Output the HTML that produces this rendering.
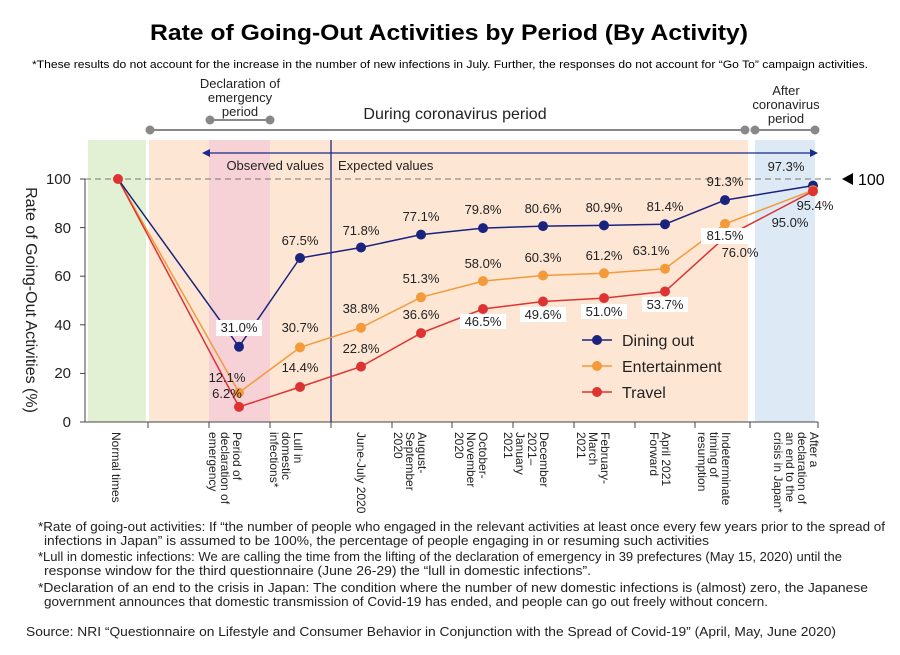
<!DOCTYPE html>
<html><head><meta charset="utf-8"><style>
body{margin:0;background:#fff;width:900px;height:650px;overflow:hidden}
svg{font-family:"Liberation Sans","DejaVu Sans",sans-serif}
</style></head><body>
<svg width="900" height="650" viewBox="0 0 900 650" xmlns="http://www.w3.org/2000/svg">
<text x="150" y="40" font-size="22" font-weight="bold" fill="#000" textLength="598" lengthAdjust="spacingAndGlyphs">Rate of Going-Out Activities by Period (By Activity)</text>
<text x="32" y="68" font-size="11" fill="#000" textLength="836" lengthAdjust="spacingAndGlyphs">*These results do not account for the increase in the number of new infections in July. Further, the responses do not account for “Go To” campaign activities.</text>
<rect x="88" y="140" width="58" height="282" fill="#e2f0d3"/>
<rect x="149" y="140" width="599" height="282" fill="#fde6d4"/>
<rect x="209" y="140" width="61" height="282" fill="#f6d2d6"/>
<rect x="755" y="140" width="60" height="282" fill="#dde9f5"/>
<g fill="#888" stroke="#888" stroke-width="2">
<line x1="150" y1="130" x2="745" y2="130"/><circle cx="150" cy="130" r="3.5"/><circle cx="745" cy="130" r="3.5"/>
<line x1="210" y1="120" x2="270" y2="120"/><circle cx="210" cy="120" r="3.5"/><circle cx="270" cy="120" r="3.5"/>
<line x1="755" y1="130" x2="815" y2="130"/><circle cx="755" cy="130" r="3.5"/><circle cx="815" cy="130" r="3.5"/>
</g>
<g font-size="13" text-anchor="middle" fill="#222">
<text x="240" y="88">Declaration of</text><text x="240" y="102">emergency</text><text x="240" y="116">period</text>
<text x="786" y="95">After</text><text x="786" y="109">coronavirus</text><text x="786" y="123">period</text>
</g>
<text x="455" y="119" font-size="16" text-anchor="middle" fill="#222">During coronavirus period</text>
<line x1="331" y1="140" x2="331" y2="422" stroke="#1a2a8a" stroke-width="1.3"/>
<line x1="206" y1="153" x2="812" y2="153" stroke="#1a2a8a" stroke-width="1.3"/>
<polygon points="202,153 210,149 210,157" fill="#1a2a8a"/>
<polygon points="818,153 810,149 810,157" fill="#1a2a8a"/>
<text x="324" y="170" font-size="13" text-anchor="end" fill="#222">Observed values</text>
<text x="338" y="170" font-size="13" fill="#222">Expected values</text>
<line x1="85" y1="179" x2="835" y2="179" stroke="#777" stroke-dasharray="6,4" stroke-width="1"/>
<polygon points="842,179 853,173 853,185" fill="#000"/>
<text x="858" y="185" font-size="16" fill="#000">100</text>
<line x1="85" y1="179" x2="85" y2="422" stroke="#444"/>
<line x1="85" y1="422" x2="818" y2="422" stroke="#444"/>
<g stroke="#444">
<line x1="80" y1="179" x2="85" y2="179"/><line x1="80" y1="227.6" x2="85" y2="227.6"/><line x1="80" y1="276.2" x2="85" y2="276.2"/><line x1="80" y1="324.8" x2="85" y2="324.8"/><line x1="80" y1="373.4" x2="85" y2="373.4"/><line x1="80" y1="422" x2="85" y2="422"/>
<line x1="148" y1="422" x2="148" y2="428"/><line x1="209" y1="422" x2="209" y2="428"/><line x1="270" y1="422" x2="270" y2="428"/><line x1="331" y1="422" x2="331" y2="428"/><line x1="392" y1="422" x2="392" y2="428"/><line x1="452" y1="422" x2="452" y2="428"/><line x1="513" y1="422" x2="513" y2="428"/><line x1="574" y1="422" x2="574" y2="428"/><line x1="635" y1="422" x2="635" y2="428"/><line x1="695" y1="422" x2="695" y2="428"/><line x1="750" y1="422" x2="750" y2="428"/><line x1="818" y1="422" x2="818" y2="428"/>
</g>
<g font-size="15" text-anchor="end" fill="#222">
<text x="71" y="184">100</text><text x="71" y="233">80</text><text x="71" y="281">60</text><text x="71" y="330">40</text><text x="71" y="378">20</text><text x="71" y="427">0</text>
</g>
<text transform="translate(26,300) rotate(90)" font-size="16" text-anchor="middle" fill="#222">Rate of Going-Out Activities (%)</text>
<g font-size="12" fill="#222">
<text transform="translate(112,432) rotate(90)">Normal times</text>
<g transform="translate(233,432) rotate(90)"><text x="0" y="0">Period of</text><text x="0" y="12">declaration of</text><text x="0" y="24">emergency</text></g>
<g transform="translate(294,432) rotate(90)"><text x="0" y="0">Lull in</text><text x="0" y="12">domestic</text><text x="0" y="24">infections*</text></g>
<text transform="translate(357,432) rotate(90)">June-July 2020</text>
<g transform="translate(418,432) rotate(90)"><text x="0" y="0">August-</text><text x="0" y="12">September</text><text x="0" y="24">2020</text></g>
<g transform="translate(479,432) rotate(90)"><text x="0" y="0">October-</text><text x="0" y="12">November</text><text x="0" y="24">2020</text></g>
<g transform="translate(540,432) rotate(90)"><text x="0" y="0">December</text><text x="0" y="12">2021–</text><text x="0" y="24">January</text><text x="0" y="36">2021</text></g>
<g transform="translate(601,432) rotate(90)"><text x="0" y="0">February-</text><text x="0" y="12">March</text><text x="0" y="24">2021</text></g>
<g transform="translate(662,432) rotate(90)"><text x="0" y="0">April 2021</text><text x="0" y="12">Forward</text></g>
<g transform="translate(722,432) rotate(90)"><text x="0" y="0">Indeterminate</text><text x="0" y="12">timing of</text><text x="0" y="24">resumption</text></g>
<g transform="translate(810,432) rotate(90)"><text x="0" y="0">After a</text><text x="0" y="12">declaration of</text><text x="0" y="24">an end to the</text><text x="0" y="36">crisis in Japan*</text></g>
</g>
<polyline fill="none" stroke="#f39a3a" stroke-width="1.5" points="118,179 239,392.6 300,347.4 361,327.7 421,297.3 483,281.1 543,275.5 604,273.3 665,268.7 725,223.9 813,190.2"/>
<polyline fill="none" stroke="#dd3333" stroke-width="1.5" points="118,179 239,406.9 300,387 361,366.6 421,333.1 483,309 543,301.5 604,298.1 665,291.5 725,237.3 813,191.2"/>
<polyline fill="none" stroke="#1a237e" stroke-width="1.5" points="118,179 239,346.7 300,258 361,247.5 421,234.6 483,228.1 543,226.1 604,225.4 665,224.2 725,200.1 813,185.6"/>
<g fill="#f39a3a"><circle cx="239" cy="392.6" r="5"/><circle cx="300" cy="347.4" r="5"/><circle cx="361" cy="327.7" r="5"/><circle cx="421" cy="297.3" r="5"/><circle cx="483" cy="281.1" r="5"/><circle cx="543" cy="275.5" r="5"/><circle cx="604" cy="273.3" r="5"/><circle cx="665" cy="268.7" r="5"/><circle cx="725" cy="223.9" r="5"/></g>
<g fill="#dd3333"><circle cx="239" cy="406.9" r="5"/><circle cx="300" cy="387" r="5"/><circle cx="361" cy="366.6" r="5"/><circle cx="421" cy="333.1" r="5"/><circle cx="483" cy="309" r="5"/><circle cx="543" cy="301.5" r="5"/><circle cx="604" cy="298.1" r="5"/><circle cx="665" cy="291.5" r="5"/><circle cx="725" cy="237.3" r="5"/></g>
<g fill="#1a237e"><circle cx="239" cy="346.7" r="5"/><circle cx="300" cy="258" r="5"/><circle cx="361" cy="247.5" r="5"/><circle cx="421" cy="234.6" r="5"/><circle cx="483" cy="228.1" r="5"/><circle cx="543" cy="226.1" r="5"/><circle cx="604" cy="225.4" r="5"/><circle cx="665" cy="224.2" r="5"/><circle cx="725" cy="200.1" r="5"/><circle cx="813" cy="185.6" r="5"/></g>
<circle cx="813" cy="190.2" r="5" fill="#f39a3a"/>
<circle cx="813" cy="191.2" r="5" fill="#dd3333"/>
<circle cx="118" cy="179" r="5" fill="#dd3333"/>
<g font-size="13" text-anchor="middle" fill="#222">
<rect x="216" y="320" width="46" height="16" fill="#fff"/><text x="239" y="332">31.0%</text>
<text x="300" y="245">67.5%</text><text x="361" y="235">71.8%</text><text x="421" y="221">77.1%</text><text x="483" y="214">79.8%</text><text x="543" y="213">80.6%</text><text x="604" y="212">80.9%</text><text x="665" y="211">81.4%</text>
<text x="725" y="186">91.3%</text><text x="786" y="171">97.3%</text>
<text x="227" y="382">12.1%</text><text x="300" y="332">30.7%</text><text x="361" y="313">38.8%</text><text x="421" y="283">51.3%</text><text x="483" y="268">58.0%</text><text x="543" y="262">60.3%</text><text x="604" y="260">61.2%</text><text x="651" y="255">63.1%</text>
<rect x="701" y="228" width="48" height="16" fill="#fff"/><text x="725" y="240">81.5%</text>
<text x="815" y="210">95.4%</text>
<text x="227" y="398">6.2%</text><text x="300" y="372">14.4%</text><text x="361" y="353">22.8%</text><text x="421" y="319">36.6%</text>
<rect x="460" y="314" width="46" height="15" fill="#fff"/><text x="483" y="326">46.5%</text>
<rect x="520" y="307" width="46" height="15" fill="#fff"/><text x="543" y="319">49.6%</text>
<rect x="581" y="304" width="46" height="15" fill="#fff"/><text x="604" y="316">51.0%</text>
<rect x="642" y="297" width="46" height="15" fill="#fff"/><text x="665" y="309">53.7%</text>
<text x="740" y="257">76.0%</text><text x="790" y="227">95.0%</text>
</g>
<g font-size="16" fill="#222">
<line x1="582" y1="340" x2="612" y2="340" stroke="#1a237e" stroke-width="1.5"/><circle cx="597" cy="340" r="5" fill="#1a237e"/><text x="622" y="346">Dining out</text>
<line x1="582" y1="366" x2="612" y2="366" stroke="#f39a3a" stroke-width="1.5"/><circle cx="597" cy="366" r="5" fill="#f39a3a"/><text x="622" y="372">Entertainment</text>
<line x1="582" y1="392" x2="612" y2="392" stroke="#dd3333" stroke-width="1.5"/><circle cx="597" cy="392" r="5" fill="#dd3333"/><text x="622" y="398">Travel</text>
</g>
<g font-size="12.5" fill="#222">
<text x="38" y="531" textLength="847" lengthAdjust="spacingAndGlyphs">*Rate of going-out activities: If “the number of people who engaged in the relevant activities at least once every few years prior to the spread of</text>
<text x="44" y="545" textLength="665" lengthAdjust="spacingAndGlyphs">infections in Japan” is assumed to be 100%, the percentage of people engaging in or resuming such activities</text>
<text x="38" y="561" textLength="804" lengthAdjust="spacingAndGlyphs">*Lull in domestic infections: We are calling the time from the lifting of the declaration of emergency in 39 prefectures (May 15, 2020) until the</text>
<text x="44" y="575" textLength="547" lengthAdjust="spacingAndGlyphs">response window for the third questionnaire (June 26-29) the “lull in domestic infections”.</text>
<text x="38" y="592" textLength="830" lengthAdjust="spacingAndGlyphs">*Declaration of an end to the crisis in Japan: The condition where the number of new domestic infections is (almost) zero, the Japanese</text>
<text x="44" y="606" textLength="724" lengthAdjust="spacingAndGlyphs">government announces that domestic transmission of Covid-19 has ended, and people can go out freely without concern.</text>
<text x="26" y="636" font-size="13" textLength="810" lengthAdjust="spacingAndGlyphs">Source: NRI “Questionnaire on Lifestyle and Consumer Behavior in Conjunction with the Spread of Covid-19” (April, May, June 2020)</text>
</g>
</svg>
</body></html>
